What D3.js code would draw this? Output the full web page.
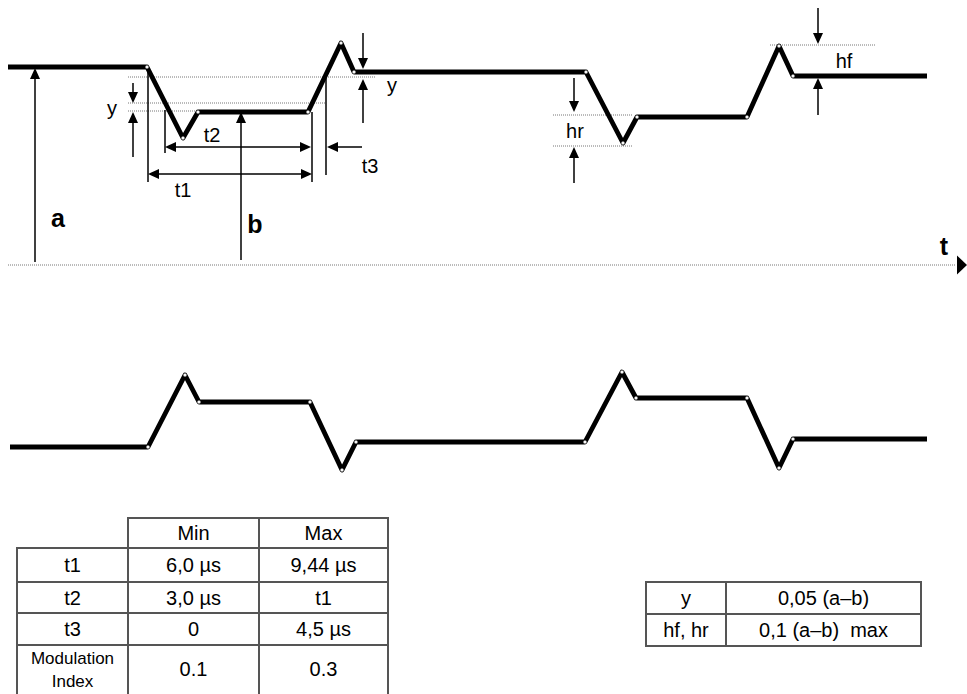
<!DOCTYPE html>
<html>
<head>
<meta charset="utf-8">
<script src="https://cdnjs.cloudflare.com/ajax/libs/d3/7.8.5/d3.min.js"></script>
<style>
	body {
	    margin: 0;
	    background-color: white;
	}
	svg {
	    display: block;
	    font-family: "Liberation Sans", Arial, sans-serif;
	}
</style>
</head>
<body>
<svg id="chart" width="967" height="694"></svg>
<script>
	// upper waveform: time (arb. units) and level (arb. units)
	var timeTop   = [0, 13.9, 17.5, 19, 30, 33.3, 34.6, 57.8, 61.5, 62.9, 73.9, 77.1, 78.5, 91.9];
	var levelTop  = [9.9, 9.9, 6.35, 7.65, 7.65, 11.1, 9.65, 9.65, 6.1, 7.4, 7.4, 10.95, 9.45, 9.45];

	// lower waveform
	var timeBottom  = [0.2, 14, 17.7, 19.1, 30.2, 33.4, 34.8, 57.7, 61.4, 62.8, 73.9, 77.1, 78.5, 91.9];
	var levelBottom = [2.65, 2.65, 6.25, 4.9, 4.9, 1.5, 2.9, 2.9, 6.4, 5.1, 5.1, 1.6, 3.05, 3.05];

	// dotted reference levels [from t, to t, level]
	var guideLines = [
		[12, 36.7, 9.4],
		[12, 31.7, 8.1],
		[12, 19, 7.7],
		[54.5, 62.4, 7.5],
		[54.5, 62.5, 5.95],
		[76.2, 86.7, 11.0]
	];

	// extension lines [t, from level, to level]
	var extLines = [
		[14, 9.85, 4.15],
		[15.7, 7.75, 5.6],
		[30.4, 7.65, 4.15],
		[31.8, 9.35, 4.5]
	];

	// arrows [t0, v0, t1, v1, both heads?]
	var arrows = [
		[15.7, 5.9, 30.3, 5.9, true],    // t2
		[14, 4.55, 30.4, 4.55, true],    // t1
		[35.4, 5.9, 31.9, 5.9, false],   // t3
		[2.7, 0.15, 2.7, 9.85, false],   // a
		[23.3, 0.25, 23.3, 7.65, false], // b
		[12.5, 9.1, 12.5, 8.1, false],   // y left
		[12.5, 5.4, 12.5, 7.65, false],
		[35.5, 11.6, 35.5, 9.8, false],  // y right
		[35.5, 7.1, 35.5, 9.3, false],
		[56.6, 9.35, 56.6, 7.65, false], // hr
		[56.6, 4.1, 56.6, 5.9, false],
		[81, 12.85, 81, 11.05, false],   // hf
		[81, 7.5, 81, 9.35, false]
	];

	// labels [text, t, level, bold]
	var labels = [
		["y", 10.4, 7.5, false],
		["y", 38.4, 8.65, false],
		["t2", 20.4, 6.15, false],
		["t1", 17.5, 3.4, false],
		["t3", 36.2, 4.6, false],
		["hr", 56.7, 6.35, false],
		["hf", 83.6, 9.85, false],
		["a", 5, 1.9, true],
		["b", 24.7, 1.6, true],
		["t", 93.6, 0.5, true]
	];
	var axisEnd = 94.7;

	// tables
	var tableHeaders = ["Min", "Max"];
	var rowLabels = ["t1", "t2", "t3", "Modulation Index"];
	var minValues = ["6,0 \u00b5s", "3,0 \u00b5s", "0", "0.1"];
	var maxValues = ["9,44 \u00b5s", "t1", "4,5 \u00b5s", "0.3"];
	var paramNames  = ["y", "hf, hr"];
	var paramValues = ["0,05 (a\u2013b)", "0,1 (a\u2013b)  max"];

	///////////////	 SCALES 	//////////////////
	var svg = d3.select("#chart");
	svg.append("rect").attr("width", 967).attr("height", 694).attr("fill", "white");

	var x = d3.scaleLinear().domain([0, 10]).range([8, 108]);
	var yTop = d3.scaleLinear().domain([0, 10]).range([265, 65]);
	var yBot = d3.scaleLinear().domain([0, 10]).range([500, 300]);

	///////////////	 GUIDES 	//////////////////
	svg.selectAll(".guide").data(guideLines).enter().append("line")
		.attr("class", "guide")
		.attr("x1", function(d){ return x(d[0]); })
		.attr("x2", function(d){ return x(d[1]); })
		.attr("y1", function(d){ return yTop(d[2]); })
		.attr("y2", function(d){ return yTop(d[2]); })
		.attr("stroke", "#777")
		.attr("stroke-width", 1)
		.attr("stroke-dasharray", "1,1");

	// time axis
	svg.append("line")
		.attr("x1", x(0)).attr("x2", x(axisEnd))
		.attr("y1", yTop(0)).attr("y2", yTop(0))
		.attr("stroke", "#777")
		.attr("stroke-width", 1)
		.attr("stroke-dasharray", "1,1");
	var ax = x(axisEnd), ay = yTop(0);
	svg.append("path")
		.attr("d", "M" + (ax + 2) + "," + (ay - 9.5) + "L" + (ax + 12) + "," + ay + "L" + (ax + 2) + "," + (ay + 9.5) + "Z")
		.attr("fill", "black");

	svg.selectAll(".ext").data(extLines).enter().append("line")
		.attr("class", "ext")
		.attr("x1", function(d){ return x(d[0]); })
		.attr("x2", function(d){ return x(d[0]); })
		.attr("y1", function(d){ return yTop(d[1]); })
		.attr("y2", function(d){ return yTop(d[2]); })
		.attr("stroke", "black")
		.attr("stroke-width", 1.5);

	///////////////	 ARROWS 	//////////////////
	function head(px, py, dx, dy){
		var L = 11, W = 5;
		var bx = px - dx * L, by = py - dy * L;
		return "M" + px + "," + py +
			"L" + (bx - dy * W) + "," + (by + dx * W) +
			"L" + (bx + dy * W) + "," + (by - dx * W) + "Z";
	}
	arrows.forEach(function(a){
		var x0 = x(a[0]), y0 = yTop(a[1]), x1 = x(a[2]), y1 = yTop(a[3]);
		var len = Math.sqrt((x1 - x0) * (x1 - x0) + (y1 - y0) * (y1 - y0));
		var dx = (x1 - x0) / len, dy = (y1 - y0) / len;
		svg.append("line")
			.attr("x1", a[4] ? x0 + dx * 8 : x0).attr("y1", a[4] ? y0 + dy * 8 : y0)
			.attr("x2", x1 - dx * 8).attr("y2", y1 - dy * 8)
			.attr("stroke", "black")
			.attr("stroke-width", 1.5);
		svg.append("path").attr("d", head(x1, y1, dx, dy)).attr("fill", "black");
		if(a[4]){
			svg.append("path").attr("d", head(x0, y0, -dx, -dy)).attr("fill", "black");
		}
	});

	///////////////	 WAVEFORMS 	//////////////////
	var topPts = timeTop.map(function(t, i){ return [x(t), yTop(levelTop[i])]; });
	var botPts = timeBottom.map(function(t, i){ return [x(t), yBot(levelBottom[i])]; });

	[topPts, botPts].forEach(function(pts){
		svg.append("path")
			.attr("d", d3.line()(pts))
			.attr("fill", "none")
			.attr("stroke", "black")
			.attr("stroke-width", 4.8)
			.attr("stroke-linejoin", "round");
		svg.selectAll(null).data(pts.slice(1, -1)).enter().append("circle")
			.attr("cx", function(d){ return d[0]; })
			.attr("cy", function(d){ return d[1]; })
			.attr("r", 1.6)
			.attr("fill", "white")
			.attr("stroke", "#888")
			.attr("stroke-width", 0.5);
	});

	///////////////	 LABELS 	//////////////////
	svg.selectAll(".lbl").data(labels).enter().append("text")
		.attr("class", "lbl")
		.attr("x", function(d){ return x(d[1]); })
		.attr("y", function(d){ return yTop(d[2]); })
		.attr("text-anchor", "middle")
		.style("font-size", function(d){ return d[3] ? "25px" : "20px"; })
		.style("font-weight", function(d){ return d[3] ? "bold" : "normal"; })
		.text(function(d){ return d[0]; });

	///////////////	 TABLES 	//////////////////
	var border = "#555";
	var colEdges = [17, 128, 259, 388];
	var rowEdges = [548, 582, 613, 645, 702];
	var headTop = 518;

	function cell(x0, y0, x1, y1){
		svg.append("rect")
			.attr("x", x0).attr("y", y0)
			.attr("width", x1 - x0).attr("height", y1 - y0)
			.attr("fill", "none")
			.attr("stroke", border)
			.attr("stroke-width", 2);
	}
	function cellText(str, cx, cy, size){
		svg.append("text")
			.attr("x", cx).attr("y", cy)
			.attr("dy", "0.36em")
			.attr("text-anchor", "middle")
			.style("font-size", size + "px")
			.style("white-space", "pre")
			.text(str);
	}

	tableHeaders.forEach(function(h, j){
		cell(colEdges[j + 1], headTop, colEdges[j + 2], rowEdges[0]);
		cellText(h, (colEdges[j + 1] + colEdges[j + 2]) / 2, (headTop + rowEdges[0]) / 2, 20);
	});
	rowLabels.forEach(function(r, i){
		var y0 = rowEdges[i], y1 = rowEdges[i + 1], cy = (y0 + y1) / 2;
		var vals = [r, minValues[i], maxValues[i]];
		vals.forEach(function(v, j){
			cell(colEdges[j], y0, colEdges[j + 1], y1);
			var cx = (colEdges[j] + colEdges[j + 1]) / 2;
			if(j == 0 && v.indexOf(" ") > 0){
				var parts = v.split(" ");
				cellText(parts[0], cx, 658, 17);
				cellText(parts[1], cx, 681, 17);
			}else{
				cellText(v, cx, i == 3 ? 669 : cy, 20);
			}
		});
	});

	var pCols = [646, 726, 921];
	var pRows = [582, 614, 646];
	paramNames.forEach(function(p, i){
		var y0 = pRows[i], y1 = pRows[i + 1];
		cell(pCols[0], y0, pCols[1], y1);
		cell(pCols[1], y0, pCols[2], y1);
		cellText(p, (pCols[0] + pCols[1]) / 2, (y0 + y1) / 2, 20);
		cellText(paramValues[i], (pCols[1] + pCols[2]) / 2, (y0 + y1) / 2, 20);
	});
</script>
</body>
</html>
